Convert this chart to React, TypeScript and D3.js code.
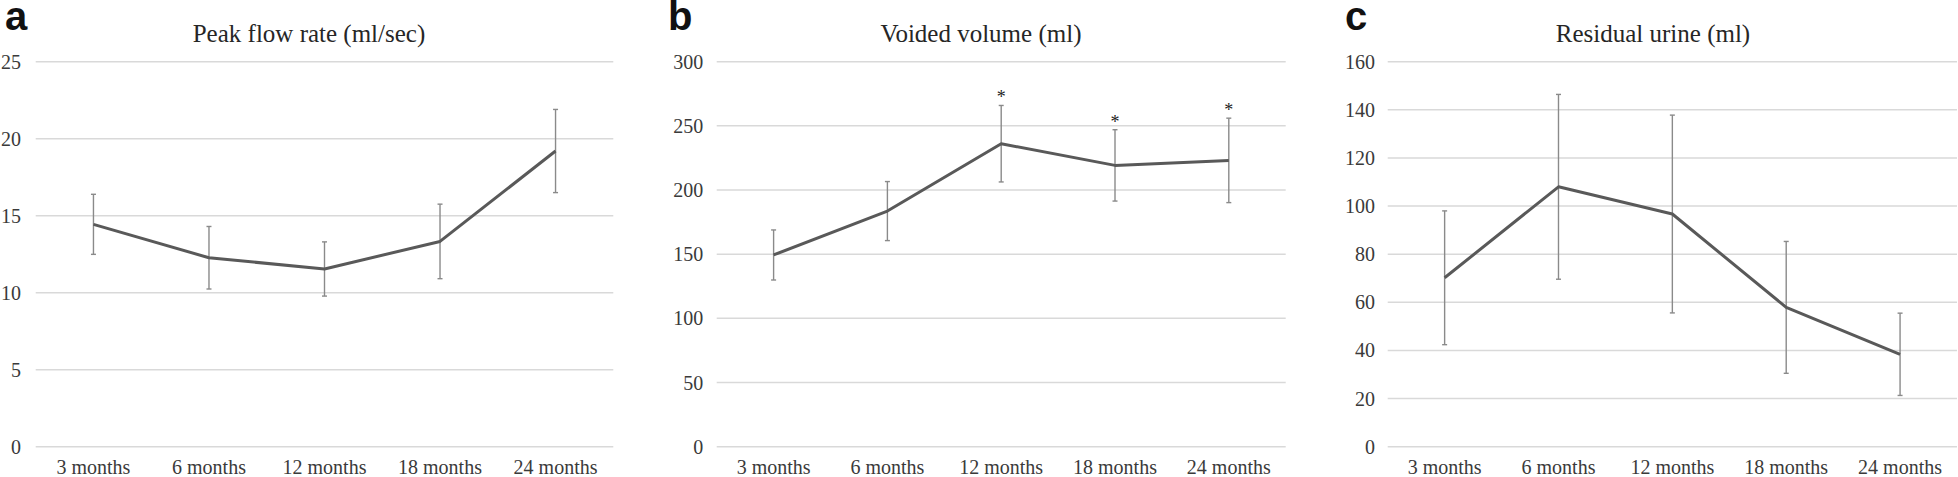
import React from "react";
import * as d3 from "d3";

const months = ["3 months", "6 months", "12 months", "18 months", "24 months"];

const peakFlowMean = [14.44, 12.27, 11.54, 13.33, 19.2];
const peakFlowErr = [1.95, 2.03, 1.76, 2.42, 2.7];
const peakFlowTicks = [0, 5, 10, 15, 20, 25];

const voidedMean = [149.4, 183.6, 236.1, 219.2, 223.1];
const voidedErr = [19.5, 23.0, 29.8, 27.8, 32.9];
const voidedSig = [false, false, true, true, true];
const voidedTicks = [0, 50, 100, 150, 200, 250, 300];

const residualMean = [70.2, 108.0, 96.7, 57.9, 38.4];
const residualErr = [27.8, 38.4, 41.1, 27.4, 17.1];
const residualSig = [false, false, false, false, false];
const residualTicks = [0, 20, 40, 60, 80, 100, 120, 140, 160];

const peakSig = [false, false, false, false, false];

type PanelProps = {
  letter: string;
  letterX: number;
  title: string;
  titleX: number;
  x0: number;
  x1: number;
  labelRight: number;
  ticks: number[];
  mean: number[];
  err: number[];
  sig: boolean[];
};

const Y_TOP = 61.7;
const Y_BOT = 446.7;

function Panel(p: PanelProps) {
  const yMax = p.ticks[p.ticks.length - 1];
  const y = d3.scaleLinear().domain([0, yMax]).range([Y_BOT, Y_TOP]);
  const x = d3.scaleBand<string>().domain(months).range([p.x0, p.x1]).padding(0);
  const cx = (m: string) => (x(m) as number) + x.bandwidth() / 2;
  const line = d3
    .line<number>()
    .x((_, i) => cx(months[i]))
    .y((d) => y(d));
  const serif = "'Liberation Serif', 'Times New Roman', serif";
  return (
    <g>
      <text x={p.letterX} y={30} fontFamily="'Liberation Sans', Arial, sans-serif" fontWeight="bold" fontSize={40} fill="#111">
        {p.letter}
      </text>
      <text x={p.titleX} y={41.5} textAnchor="middle" fontFamily={serif} fontSize={25} fill="#262626">
        {p.title}
      </text>
      {p.ticks.map((t) => (
        <g key={t}>
          <line x1={p.x0} x2={p.x1} y1={y(t)} y2={y(t)} stroke="#d9d9d9" strokeWidth={1.5} />
          <text x={p.labelRight} y={y(t) + 7} textAnchor="end" fontFamily={serif} fontSize={20} fill="#3a3a3a">
            {t}
          </text>
        </g>
      ))}
      {months.map((m) => (
        <text key={m} x={cx(m)} y={474} textAnchor="middle" fontFamily={serif} fontSize={20} fill="#3a3a3a">
          {m}
        </text>
      ))}
      {p.mean.map((v, i) => {
        const xc = cx(months[i]);
        const top = y(v + p.err[i]);
        const bot = y(v - p.err[i]);
        return (
          <g key={i} stroke="#8a8a8a" strokeWidth={1.4}>
            <line x1={xc} x2={xc} y1={top} y2={bot} />
            <line x1={xc - 2.5} x2={xc + 2.5} y1={top} y2={top} />
            <line x1={xc - 2.5} x2={xc + 2.5} y1={bot} y2={bot} />
          </g>
        );
      })}
      <path d={line(p.mean) || ""} fill="none" stroke="#595959" strokeWidth={3} strokeLinejoin="round" />
      {p.sig.map((s, i) =>
        s ? (
          <text key={i} x={cx(months[i])} y={y(p.mean[i] + p.err[i]) - 2} textAnchor="middle" fontFamily={serif} fontSize={18} fill="#222">
            *
          </text>
        ) : null
      )}
    </g>
  );
}

export default function App() {
  return (
    <svg width={1958} height={477} style={{ position: "absolute", left: 0, top: 0, background: "#fff" }}>
      <rect x={0} y={0} width={1958} height={477} fill="#fff" />
      <Panel
        letter="a"
        letterX={5}
        title="Peak flow rate (ml/sec)"
        titleX={309}
        x0={35.7}
        x1={613.3}
        labelRight={21}
        ticks={peakFlowTicks}
        mean={peakFlowMean}
        err={peakFlowErr}
        sig={peakSig}
      />
      <Panel
        letter="b"
        letterX={668}
        title="Voided volume (ml)"
        titleX={981}
        x0={716.7}
        x1={1285.7}
        labelRight={703.3}
        ticks={voidedTicks}
        mean={voidedMean}
        err={voidedErr}
        sig={voidedSig}
      />
      <Panel
        letter="c"
        letterX={1345}
        title="Residual urine (ml)"
        titleX={1653}
        x0={1387.7}
        x1={1957}
        labelRight={1375}
        ticks={residualTicks}
        mean={residualMean}
        err={residualErr}
        sig={residualSig}
      />
    </svg>
  );
}
